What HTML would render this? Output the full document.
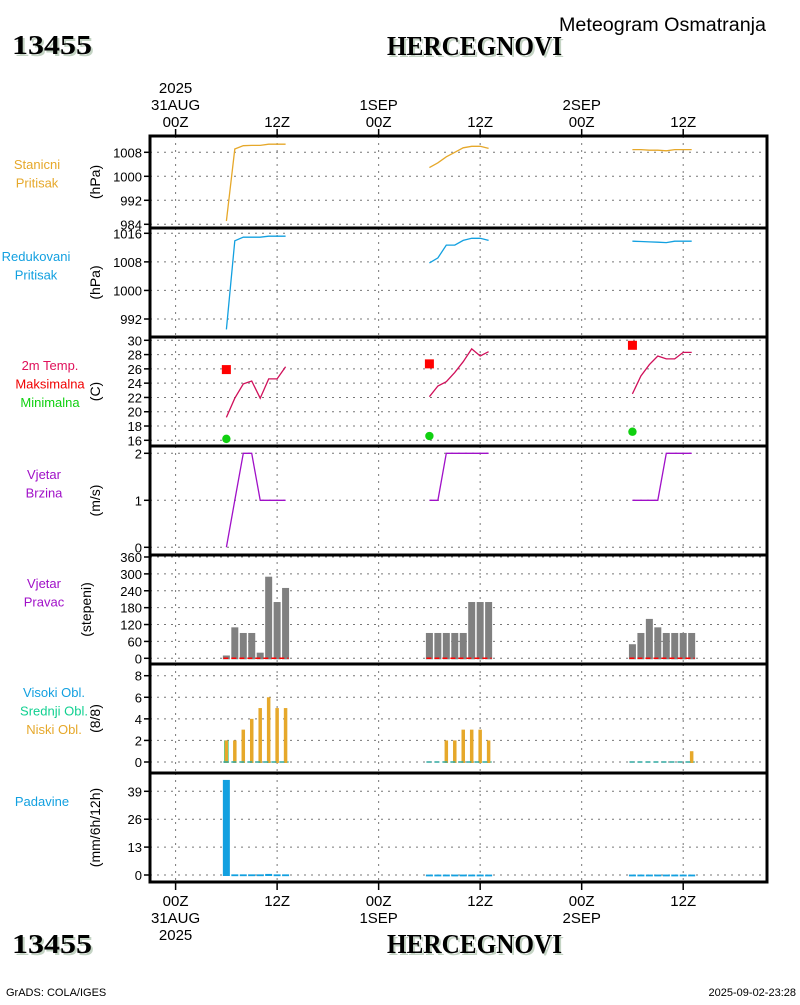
<!DOCTYPE html>
<html><head><meta charset="utf-8"><style>
body{margin:0;background:#fff}
svg text{font-family:"Liberation Sans",sans-serif}
</style></head><body>
<svg id="chart" width="800" height="1000" xmlns="http://www.w3.org/2000/svg">
<rect width="800" height="1000" fill="#fff"/>
<g>
<text x="559" y="31" font-size="19" textLength="207" lengthAdjust="spacingAndGlyphs" fill="#000">Meteogram Osmatranja</text>
<text x="14" y="56" font-weight="bold" font-size="27" fill="#c4d4c4" textLength="80" lengthAdjust="spacingAndGlyphs" style="font-family:'Liberation Serif',serif">13455</text>
<text x="12" y="54" font-weight="bold" font-size="27" fill="#000" textLength="80" lengthAdjust="spacingAndGlyphs" style="font-family:'Liberation Serif',serif">13455</text>
<text x="389" y="57" font-weight="bold" font-size="27" fill="#c4d4c4" textLength="175" lengthAdjust="spacingAndGlyphs" style="font-family:'Liberation Serif',serif">HERCEGNOVI</text>
<text x="387" y="55" font-weight="bold" font-size="27" fill="#000" textLength="175" lengthAdjust="spacingAndGlyphs" style="font-family:'Liberation Serif',serif">HERCEGNOVI</text>
<text x="14" y="955" font-weight="bold" font-size="27" fill="#c4d4c4" textLength="80" lengthAdjust="spacingAndGlyphs" style="font-family:'Liberation Serif',serif">13455</text>
<text x="12" y="953" font-weight="bold" font-size="27" fill="#000" textLength="80" lengthAdjust="spacingAndGlyphs" style="font-family:'Liberation Serif',serif">13455</text>
<text x="389" y="955" font-weight="bold" font-size="27" fill="#c4d4c4" textLength="175" lengthAdjust="spacingAndGlyphs" style="font-family:'Liberation Serif',serif">HERCEGNOVI</text>
<text x="387" y="953" font-weight="bold" font-size="27" fill="#000" textLength="175" lengthAdjust="spacingAndGlyphs" style="font-family:'Liberation Serif',serif">HERCEGNOVI</text>
<text x="6" y="996" font-size="11" fill="#000">GrADS: COLA/IGES</text>
<text x="796" y="996" font-size="11" fill="#000" text-anchor="end">2025-09-02-23:28</text>
</g>
<g id="plot"></g>
</svg>
<script>
// ---- data (hours since 2025-08-31 00Z) ----
const hoursDay1 = [6,7,8,9,10,11,12,13];
const hoursDay2 = [30,31,32,33,34,35,36,37];
const hoursDay3 = [54,55,56,57,58,59,60,61];
const stationPressure1 = [985.1,1009.1,1010.2,1010.3,1010.3,1010.7,1010.7,1010.7];
const stationPressure2 = [1002.9,1004.5,1006.5,1008,1009.5,1010,1010,1009.3];
const stationPressure3 = [1008.9,1008.9,1008.7,1008.7,1008.5,1008.9,1008.9,1008.9];
const reducedPressure1 = [989.1,1013.9,1014.9,1014.9,1014.9,1015.2,1015.2,1015.2];
const reducedPressure2 = [1007.7,1009.1,1012.7,1012.7,1014,1014.6,1014.6,1014];
const reducedPressure3 = [1013.8,1013.7,1013.6,1013.5,1013.4,1013.8,1013.8,1013.8];
const temp1 = [19.2,21.9,23.9,24.3,21.9,24.6,24.6,26.3];
const temp2 = [22.1,23.6,24.2,25.5,27,28.8,27.8,28.4];
const temp3 = [22.5,25,26.6,27.8,27.4,27.4,28.3,28.3];
const maxTempHours = [6,30,54];
const maxTemps = [25.9,26.7,29.3];
const minTemps = [16.2,16.6,17.2];
const windSpeed1 = [0,1,2,2,1,1,1,1];
const windSpeed2 = [1,1,2,2,2,2,2,2];
const windSpeed3 = [1,1,1,1,2,2,2,2];
const windDir1 = [10,110,90,90,20,290,200,250];
const windDir2 = [90,90,90,90,90,200,200,200];
const windDir3 = [50,90,140,110,90,90,90,90];
const lowCloud1 = [2,2,3,4,5,6,5,5];
const lowCloud2 = [0,0,2,2,3,3,3,2];
const lowCloud3 = [0,0,0,0,0,0,0,1];
const midCloud1 = [2,0,0,0,0,0,0,0];
const precip1 = [44.3,0.3,0.3,0.3,0.3,0.5,0.3,0.3];
const precip2 = [0.2,0.2,0.2,0.2,0.2,0.2,0.2,0.2];
const precip3 = [0.2,0.2,0.2,0.2,0.2,0.2,0.2,0.2];
const pressTicks = [984,992,1000,1008];
const redTicks = [992,1000,1008,1016];
const tempTicks = [16,18,20,22,24,26,28,30];
const speedTicks = [0,1,2];
const dirTicks = [0,60,120,180,240,300,360];
const cloudTicks = [0,2,4,6,8];
const precipTicks = [0,13,26,39];
const timeTicks = [0,12,24,36,48,60];
const timeTopLabels = [["2025","31AUG","00Z"],["12Z"],["1SEP","00Z"],["12Z"],["2SEP","00Z"],["12Z"]];
const timeBottomLabels = [["00Z","31AUG","2025"],["12Z"],["00Z","1SEP"],["12Z"],["00Z","2SEP"],["12Z"]];

const NS="http://www.w3.org/2000/svg";
const plot=document.getElementById('plot');
const L=150,R=767;
const xs=h=>175.6+h*8.46;
function el(tag,attrs,parent){const e=document.createElementNS(NS,tag);for(const k in attrs)e.setAttribute(k,attrs[k]);(parent||plot).appendChild(e);return e;}
function txt(x,y,s,attrs,parent){const t=el('text',Object.assign({x:x,y:y,'font-size':13,fill:'#000'},attrs),parent);t.textContent=s;return t;}

const panels=[
 {name:'station-pressure',top:136,bot:228,y0:224.3,v0:984,y1:152.3,v1:1008,ticks:pressTicks,unit:'(hPa)',labels:[['Stanicni','#e6a82a'],['Pritisak','#e6a82a']],lx:37,ly:169},
 {name:'reduced-pressure',top:228,bot:337,y0:319,v0:992,y1:233.3,v1:1016,ticks:redTicks,unit:'(hPa)',labels:[['Redukovani','#12a0e0'],['Pritisak','#12a0e0']],lx:36,ly:261},
 {name:'temperature',top:337,bot:446,y0:440.3,v0:16,y1:340.3,v1:30,ticks:tempTicks,unit:'(C)',labels:[['2m Temp.','#e0105a'],['Maksimalna','#f00000'],['Minimalna','#10d010']],lx:50,ly:370},
 {name:'wind-speed',top:446,bot:555,y0:547.3,v0:0,y1:453.3,v1:2,ticks:speedTicks,unit:'(m/s)',labels:[['Vjetar','#a010c8'],['Brzina','#a010c8']],lx:44,ly:479},
 {name:'wind-direction',top:555,bot:664,y0:658.3,v0:0,y1:557,v1:360,ticks:dirTicks,unit:'(stepeni)',labels:[['Vjetar','#a010c8'],['Pravac','#a010c8']],lx:44,ly:588,ux:86},
 {name:'cloud-cover',top:664,bot:773,y0:762,v0:0,y1:675.7,v1:8,ticks:cloudTicks,unit:'(8/8)',labels:[['Visoki Obl.','#12a0e0'],['Srednji Obl.','#10d090'],['Niski Obl.','#e6a82a']],lx:54,ly:697},
 {name:'precipitation',top:773,bot:882,y0:875,v0:0,y1:791.3,v1:39,ticks:precipTicks,unit:'(mm/6h/12h)',labels:[['Padavine','#12a0e0']],lx:42,ly:806},
];
panels.forEach(p=>{p.y=v=>p.y0+(v-p.v0)*(p.y1-p.y0)/(p.v1-p.v0);});

panels.forEach(p=>{
 const g=el('g',{});
 
 
 timeTicks.forEach(t=>{el('line',{x1:xs(t),x2:xs(t),y1:p.top,y2:p.bot,stroke:'#777','stroke-dasharray':'2,5'},g);});
 p.ticks.forEach(v=>{
  const y=p.y(v);
  el('line',{x1:L,x2:R,y1:y,y2:y,stroke:'#777','stroke-dasharray':'2,5'},g);
  el('line',{x1:L-6,x2:L,y1:y,y2:y,stroke:'#000','stroke-width':1.5},g);
  const t=txt(L-8,y+5,String(v),{'text-anchor':'end'},g);
  
  
 });
 const cy=(p.top+p.bot)/2, ux=p.ux||95;
 const u=txt(ux,cy,p.unit,{'text-anchor':'middle','font-size':14,transform:`rotate(-90 ${ux} ${cy})`,dy:5},g);
 
 
 p.labels.forEach((lb,i)=>{
  const t=txt(p.lx,p.ly+i*18.5,lb[0],{'text-anchor':'middle',fill:lb[1]},g);
  
  
 });
});

function line(p,hours,vals,color,name){
 const pts=hours.map((h,i)=>xs(h).toFixed(1)+','+p.y(vals[i]).toFixed(1)).join(' ');
 const e=el('polyline',{points:pts,fill:'none',stroke:color,'stroke-width':1.3});
 
 
}
const P=panels;
line(P[0],hoursDay1,stationPressure1,'#e6a82a','station-pressure-day1');
line(P[0],hoursDay2,stationPressure2,'#e6a82a','station-pressure-day2');
line(P[0],hoursDay3,stationPressure3,'#e6a82a','station-pressure-day3');
line(P[1],hoursDay1,reducedPressure1,'#12a0e0','reduced-pressure-day1');
line(P[1],hoursDay2,reducedPressure2,'#12a0e0','reduced-pressure-day2');
line(P[1],hoursDay3,reducedPressure3,'#12a0e0','reduced-pressure-day3');
line(P[2],hoursDay1,temp1,'#d0105a','temperature-day1');
line(P[2],hoursDay2,temp2,'#d0105a','temperature-day2');
line(P[2],hoursDay3,temp3,'#d0105a','temperature-day3');
maxTempHours.forEach((h,i)=>{
 const r=el('rect',{x:xs(h)-4.5,y:P[2].y(maxTemps[i])-4.5,width:9,height:9,fill:'#f00'});
 
 
 const c=el('circle',{cx:xs(h),cy:P[2].y(minTemps[i]),r:4.2,fill:'#10d010'});
 
 
});
line(P[3],hoursDay1,windSpeed1,'#a010c8','wind-speed-day1');
line(P[3],hoursDay2,windSpeed2,'#a010c8','wind-speed-day2');
line(P[3],hoursDay3,windSpeed3,'#a010c8','wind-speed-day3');

function bars(p,hours,vals,color,w,name){
 hours.forEach((h,i)=>{
  if(vals[i]<=0)return;
  const y=p.y(vals[i]),b=p.y(0);
  const r=el('rect',{x:xs(h)-w/2,y:y,width:w,height:Math.max(b-y,0.8)+1,fill:color});
  
  
 });
}
function baseDash(p,hours,color,name){
 const y=p.y(0);
 const e=el('line',{x1:xs(hours[0])-3,x2:xs(hours[hours.length-1])+3,y1:y,y2:y,stroke:color,'stroke-width':1.5,'stroke-dasharray':'5,3'});
 
 
}
bars(P[4],hoursDay1,windDir1,'#808080',7,'wind-direction-bar');
bars(P[4],hoursDay2,windDir2,'#808080',7,'wind-direction-bar');
bars(P[4],hoursDay3,windDir3,'#808080',7,'wind-direction-bar');
[hoursDay1,hoursDay2,hoursDay3].forEach(hs=>baseDash(P[4],hs,'#f00','wind-calm-line'));
bars(P[5],hoursDay1,midCloud1,'#10d090',4.5,'mid-cloud-bar');
bars(P[5],hoursDay1,lowCloud1,'#e6a82a',3.5,'low-cloud-bar');
bars(P[5],hoursDay2,lowCloud2,'#e6a82a',3.5,'low-cloud-bar');
bars(P[5],hoursDay3,lowCloud3,'#e6a82a',3.5,'low-cloud-bar');
[hoursDay1,hoursDay2,hoursDay3].forEach(hs=>baseDash(P[5],hs,'#30a8a0','cloud-baseline'));
bars(P[6],hoursDay1,precip1,'#12a0e0',7,'precipitation-bar');
bars(P[6],hoursDay2,precip2,'#12a0e0',7,'precipitation-bar');
bars(P[6],hoursDay3,precip3,'#12a0e0',7,'precipitation-bar');

panels.forEach(p=>{el('rect',{x:L,y:p.top,width:R-L,height:p.bot-p.top,fill:'none',stroke:'#000','stroke-width':3});});
timeTicks.forEach((t,i)=>{
 const x=xs(t);
 el('line',{x1:x,x2:x,y1:129,y2:136,stroke:'#000','stroke-width':1.5});
 el('line',{x1:x,x2:x,y1:882,y2:890,stroke:'#000','stroke-width':1.5});
 const top=timeTopLabels[i];
 top.forEach((s,j)=>{
  const t2=txt(x,127-(top.length-1-j)*17,s,{'text-anchor':'middle','font-size':15});
  
  
 });
 timeBottomLabels[i].forEach((s,j)=>{
  const t2=txt(x,906+j*17,s,{'text-anchor':'middle','font-size':15});
  
  
 });
});
</script>
</body></html>
